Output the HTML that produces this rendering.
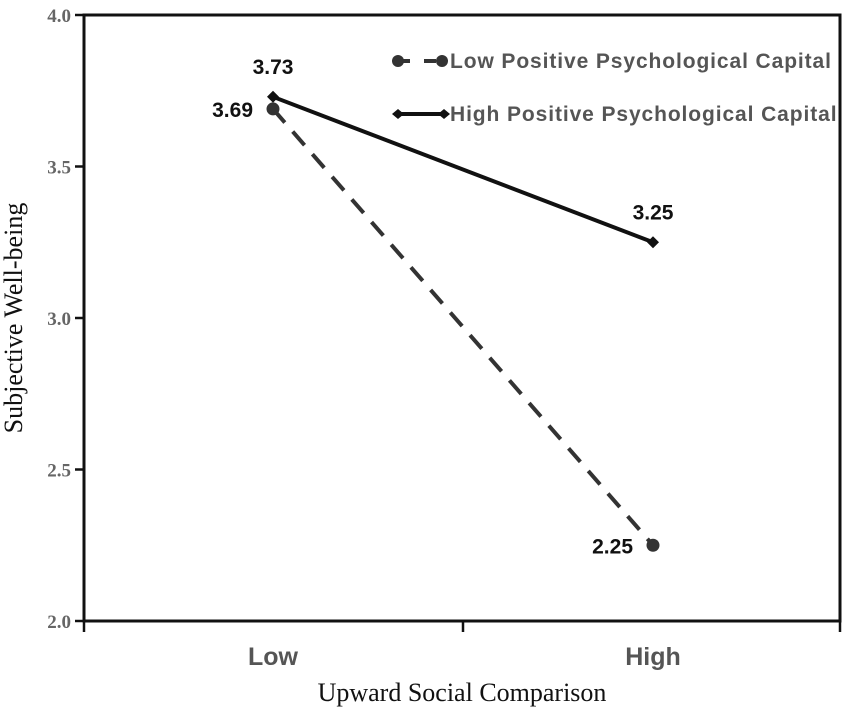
<!DOCTYPE html>
<html><head><meta charset="utf-8"><style>
html,body{margin:0;padding:0;background:#fff;}
svg{display:block;}
</style></head><body>
<svg id="chart" width="851" height="717" viewBox="0 0 851 717" xmlns="http://www.w3.org/2000/svg">
<rect x="84" y="15" width="756" height="606" fill="none" stroke="#111" stroke-width="3"/>
<g id="yticks"></g>
<g id="xticks"></g>
<text x="22" y="318" transform="rotate(-90 22 318)" text-anchor="middle" font-family="Liberation Serif, serif" font-size="26" fill="#111">Subjective Well-being</text>
<text x="462" y="701" text-anchor="middle" font-family="Liberation Serif, serif" font-size="26" fill="#111">Upward Social Comparison</text>
<g id="series"></g>
<g>
<g>
<line x1="398" y1="61" x2="444" y2="61" stroke="#333" stroke-width="4" stroke-dasharray="12,14"/>
<circle cx="398" cy="61" r="6" fill="#333"/><circle cx="442" cy="61" r="6" fill="#333"/>
<text x="450" y="68" font-family="Liberation Sans, sans-serif" font-weight="bold" font-size="21" letter-spacing="0.9" fill="#555">Low Positive Psychological Capital</text>
</g>
<g>
<line x1="398" y1="114" x2="444" y2="114" stroke="#111" stroke-width="4"/>
<polygon points="392,114 398,109 404,114 398,119" fill="#111"/><polygon points="438,114 444,109 450,114 444,119" fill="#111"/>
<text x="450" y="121" font-family="Liberation Sans, sans-serif" font-weight="bold" font-size="21" letter-spacing="0.9" fill="#555">High Positive Psychological Capital</text>
</g>
</g>
</svg>
<script>
const categories = ["Low","High"];
const lowPsyCap = [3.69, 2.25];
const highPsyCap = [3.73, 3.25];
const yTickValues = [2.0, 2.5, 3.0, 3.5, 4.0];
const yTickLabels = ["2.0","2.5","3.0","3.5","4.0"];

const NS = "http://www.w3.org/2000/svg";
const yScale = v => 621 - (v - 2.0) / 2.0 * 606;
const xScale = i => 273 + i * 380;
function mk(tag, attrs, parent){const e=document.createElementNS(NS,tag);for(const k in attrs)e.setAttribute(k,attrs[k]);parent.appendChild(e);return e;}

const yt = document.getElementById('yticks');
yTickValues.forEach((v,i)=>{
  const y=yScale(v);
  const l=mk('line',{x1:75,x2:84,y1:y,y2:y,stroke:'#111','stroke-width':2.5},yt);
  
  
  const t=mk('text',{x:71,y:y+7,'text-anchor':'end','font-family':'Liberation Serif, serif','font-weight':'bold','font-size':19,fill:'#666'},yt);
  t.textContent=yTickLabels[i];
  
  
});
const xt = document.getElementById('xticks');
[84,463,840].forEach(x=>{
  const l=mk('line',{x1:x,x2:x,y1:621,y2:632,stroke:'#111','stroke-width':2.5},xt);
  
  
});
categories.forEach((c,i)=>{
  const t=mk('text',{x:xScale(i),y:665,'text-anchor':'middle','font-family':'Liberation Sans, sans-serif','font-weight':'bold','font-size':25,fill:'#555'},xt);
  t.textContent=c;
  
  
});

const s = document.getElementById('series');
const l1=mk('line',{x1:xScale(0),y1:yScale(lowPsyCap[0]),x2:xScale(1),y2:yScale(lowPsyCap[1]),stroke:'#333','stroke-width':4,'stroke-dasharray':'18,12'},s);


const l2=mk('line',{x1:xScale(0),y1:yScale(highPsyCap[0]),x2:xScale(1),y2:yScale(highPsyCap[1]),stroke:'#111','stroke-width':4},s);


lowPsyCap.forEach((v,i)=>{
  const c=mk('circle',{cx:xScale(i),cy:yScale(v),r:6.5,fill:'#333'},s);
  
  
  const t=mk('text',{x:xScale(i)-20,y:yScale(v)+8,'text-anchor':'end','font-family':'Liberation Sans, sans-serif','font-weight':'bold','font-size':21,fill:'#111'},s);
  t.textContent=v.toFixed(2);
  
  
});
highPsyCap.forEach((v,i)=>{
  const x=xScale(i),y=yScale(v);
  const p=mk('polygon',{points:`${x-6},${y} ${x},${y-6} ${x+6},${y} ${x},${y+6}`,fill:'#111'},s);
  
  
  const t=mk('text',{x:x,y:y-23,'text-anchor':'middle','font-family':'Liberation Sans, sans-serif','font-weight':'bold','font-size':21,fill:'#111'},s);
  t.textContent=v.toFixed(2);
  
  
});
</script>
</body></html>
